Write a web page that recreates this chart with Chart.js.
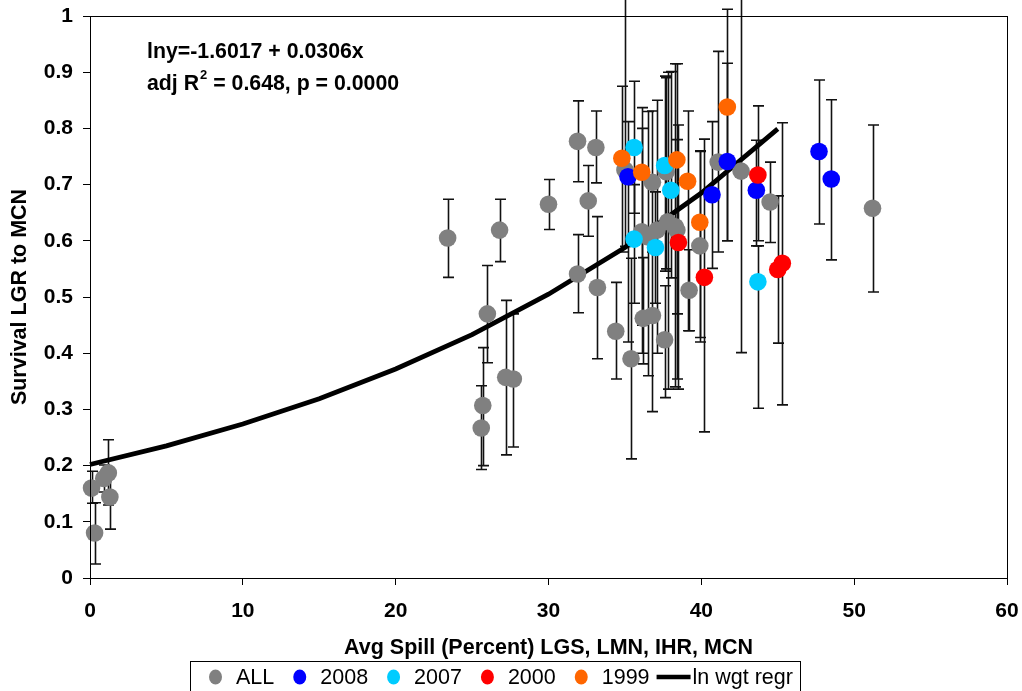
<!DOCTYPE html>
<html>
<head>
<meta charset="utf-8">
<script src="https://cdn.jsdelivr.net/npm/chart.js@4.4.1/dist/chart.umd.min.js"></script>
<style>
  html, body { margin: 0; padding: 0; background: #fff; }
  #wrap { width: 1022px; height: 691px; }
</style>
</head>
<body>
<div id="wrap"><canvas id="chart" width="1022" height="691"></canvas></div>
<script>
// ALL (gray)
const allX  = [0.1, 0.3, 0.9, 1.2, 1.3, 23.4, 25.6, 25.7, 26.0, 26.8, 27.2, 27.7, 30.0, 31.9, 31.9, 32.6, 33.1, 33.2, 34.4, 35.4, 35.0, 36.1, 36.2, 36.5, 36.8, 36.8, 37.1, 37.6, 37.7, 37.8, 38.3, 38.4, 39.2, 39.9, 41.1, 42.6, 44.5, 51.2];
const allY  = [0.160, 0.080, 0.177, 0.187, 0.144, 0.605, 0.267, 0.307, 0.470, 0.619, 0.357, 0.354, 0.665, 0.541, 0.777, 0.671, 0.766, 0.517, 0.439, 0.390, 0.726, 0.616, 0.462, 0.607, 0.467, 0.704, 0.619, 0.424, 0.723, 0.634, 0.625, 0.619, 0.512, 0.591, 0.740, 0.724, 0.669, 0.658];
const allLo = [0.133, 0.025, 0.153, 0.13, 0.087, 0.535, 0.193, 0.20, 0.383, 0.563, 0.219, 0.233, 0.62, 0.472, 0.705, 0.608, 0.703, 0.39, 0.354, 0.212, 0.59, 0.45, 0.381, 0.36, 0.296, 0.58, 0.40, 0.321, 0.55, 0.336, 0.34, 0.47, 0.44, 0.42, 0.58, 0.401, 0.597, 0.509];
const allHi = [0.19, 0.134, 0.201, 0.246, 0.19, 0.674, 0.342, 0.41, 0.556, 0.674, 0.494, 0.47, 0.709, 0.611, 0.849, 0.734, 0.831, 0.643, 0.526, 0.569, 1.1, 0.80, 0.57, 0.83, 0.62, 0.831, 0.85, 0.52, 0.89, 0.90, 0.915, 0.78, 0.584, 0.76, 0.937, 1.1, 0.74, 0.806];

// 2008 (blue)
const y2008X  = [35.2, 40.7, 41.7, 43.6, 47.7, 48.5];
const y2008Y  = [0.714, 0.682, 0.741, 0.690, 0.759, 0.710];
const y2008Lo = [0.42, 0.551, 0.60, 0.591, 0.63, 0.566];
const y2008Hi = [0.812, 0.812, 0.916, 0.779, 0.886, 0.851];

// 2007 (cyan)
const y2007X  = [35.6, 35.6, 37.0, 37.6, 38.0, 43.7];
const y2007Y  = [0.766, 0.603, 0.588, 0.734, 0.690, 0.527];
const y2007Lo = [0.649, 0.489, 0.489, 0.546, 0.534, 0.302];
const y2007Hi = [0.884, 0.70, 0.687, 0.893, 0.901, 0.591];

// 2000 (red)
const y2000X  = [38.5, 40.2, 43.7, 45.0, 45.3];
const y2000Y  = [0.597, 0.535, 0.717, 0.549, 0.560];
const y2000Lo = [0.336, 0.26, 0.60, 0.418, 0.308];
const y2000Hi = [0.806, 0.781, 0.84, 0.68, 0.81];

// 1999 (orange)
const y1999X  = [34.8, 36.1, 38.4, 39.1, 39.9, 41.7];
const y1999Y  = [0.747, 0.722, 0.744, 0.706, 0.633, 0.838];
const y1999Lo = [0.58, 0.40, 0.354, 0.44, 0.428, 0.60];
const y1999Hi = [0.875, 0.837, 0.915, 0.831, 0.759, 1.012];

// ln wgt regr line
const regX = [0, 5, 10, 15, 20, 25, 30, 35, 40, 45];
const regY = [0.202, 0.235, 0.274, 0.319, 0.372, 0.433, 0.505, 0.588, 0.685, 0.799];

const seriesLabels = ["ALL", "2008", "2007", "2000", "1999", "ln wgt regr"];
const seriesColors = ["#808080", "#0000ff", "#00ccff", "#ff0000", "#ff6600", "#000000"];

const annotLine1 = "lny=-1.6017 + 0.0306x";
const xTitle = "Avg Spill (Percent) LGS, LMN, IHR, MCN";
const yTitle = "Survival LGR to MCN";

const FONT = "'Liberation Sans', Arial, sans-serif";

function pts(xs, ys) {
    return xs.map((x, i) => ({ x: x, y: ys[i] }));
}

function scatterSet(i, xs, ys, lo, hi, order) {
    return {
        type: "scatter",
        label: seriesLabels[i],
        data: pts(xs, ys),
        errLo: lo,
        errHi: hi,
        backgroundColor: seriesColors[i],
        borderWidth: 0,
        pointRadius: 8.8,
        pointHoverRadius: 8.8,
        order: order
    };
}

// error bars, drawn under the points
const errorBars = {
    id: "errorBars",
    beforeDatasetsDraw(chart) {
        const ctx = chart.ctx;
        const xs = chart.scales.x, ys = chart.scales.y;
        ctx.save();
        ctx.beginPath();
        ctx.rect(0, 0, chart.width, chart.chartArea.bottom + 2);
        ctx.clip();
        ctx.strokeStyle = "#111";
        ctx.lineWidth = 1.6;
        chart.data.datasets.forEach(ds => {
            if (!ds.errLo) return;
            ds.data.forEach((p, i) => {
                const px = Math.round(xs.getPixelForValue(p.x)) + 0.5;
                const yl = ys.getPixelForValue(ds.errLo[i]);
                const yh = ys.getPixelForValue(ds.errHi[i]);
                ctx.beginPath();
                ctx.moveTo(px, yl);
                ctx.lineTo(px, yh);
                ctx.moveTo(px - 5.5, yl);
                ctx.lineTo(px + 5.5, yl);
                ctx.moveTo(px - 5.5, yh);
                ctx.lineTo(px + 5.5, yh);
                ctx.stroke();
            });
        });
        ctx.restore();
    }
};

// frame, titles, equation text, legend box
const decorations = {
    id: "decorations",
    afterDraw(chart) {
        const ctx = chart.ctx;
        const a = chart.chartArea;
        ctx.save();
        ctx.strokeStyle = "#000";
        ctx.lineWidth = 1;
        ctx.strokeRect(Math.round(a.left) + 0.5, Math.round(a.top) + 0.5, Math.round(a.right - a.left), Math.round(a.bottom - a.top));

        ctx.fillStyle = "#000";
        ctx.font = "bold 21.5px " + FONT;
        ctx.textAlign = "center";
        ctx.textBaseline = "middle";
        ctx.fillText(xTitle, (a.left + a.right) / 2, 648);
        ctx.save();
        ctx.translate(20, (a.top + a.bottom) / 2);
        ctx.rotate(-Math.PI / 2);
        ctx.fillText(yTitle, 0, 0);
        ctx.restore();

        // equation
        ctx.textAlign = "left";
        ctx.font = "bold 21.3px " + FONT;
        ctx.fillText(annotLine1, 147, 52);
        let x = 147;
        const parts = ["adj R", "2", " = 0.648, p = 0.0000"];
        ctx.fillText(parts[0], x, 84);
        x += ctx.measureText(parts[0]).width;
        ctx.font = "bold 13px " + FONT;
        ctx.fillText(parts[1], x + 1, 75);
        x += ctx.measureText(parts[1]).width + 1;
        ctx.font = "bold 21.3px " + FONT;
        ctx.fillText(parts[2], x, 84);

        // legend
        ctx.strokeRect(190.5, 661.5, 610, 40);
        ctx.font = "21.5px " + FONT;
        ctx.textBaseline = "middle";
        let lx = 209;
        const ly = 677;
        seriesLabels.forEach((lab, i) => {
            if (i < 5) {
                ctx.fillStyle = seriesColors[i];
                ctx.beginPath();
                ctx.ellipse(lx + 6.5, ly, 6.5, 7.5, 0, 0, Math.PI * 2);
                ctx.fill();
                lx += 27;
            } else {
                ctx.strokeStyle = "#000";
                ctx.lineWidth = 4.5;
                ctx.beginPath();
                ctx.moveTo(lx - 12, ly);
                ctx.lineTo(lx + 22, ly);
                ctx.stroke();
                lx += 24;
            }
            ctx.fillStyle = "#000";
            ctx.fillText(lab, lx, ly + 1);
            lx += ctx.measureText(lab).width + 19;
        });
        ctx.restore();
    }
};

const data = {
    datasets: [
        {
            type: "line",
            label: seriesLabels[5],
            data: pts(regX, regY),
            borderColor: "#000",
            borderWidth: 4.8,
            pointRadius: 0,
            fill: false,
            tension: 0,
            order: 10
        },
        scatterSet(0, allX, allY, allLo, allHi, 6),
        scatterSet(1, y2008X, y2008Y, y2008Lo, y2008Hi, 5),
        scatterSet(2, y2007X, y2007Y, y2007Lo, y2007Hi, 4),
        scatterSet(3, y2000X, y2000Y, y2000Lo, y2000Hi, 3),
        scatterSet(4, y1999X, y1999Y, y1999Lo, y1999Hi, 2)
    ]
};

new Chart(document.getElementById("chart"), {
    type: "scatter",
    data: data,
    options: {
        responsive: false,
        animation: false,
        clip: false,
        layout: { padding: { left: 0, top: 16, right: 15, bottom: 0 } },
        plugins: {
            legend: { display: false },
            tooltip: { enabled: false }
        },
        scales: {
            x: {
                type: "linear",
                min: 0,
                max: 60,
                afterFit: s => { s.height = 113; s.paddingLeft = 0; s.paddingRight = 0; },
                grid: { drawOnChartArea: false, drawTicks: true, tickLength: 7, color: "#000" },
                border: { display: true, color: "#000", width: 1 },
                ticks: {
                    stepSize: 10,
                    padding: 14,
                    color: "#000",
                    font: { family: FONT, size: 21, weight: "bold" }
                }
            },
            y: {
                type: "linear",
                min: 0,
                max: 1,
                afterFit: s => { s.width = 90; s.paddingTop = 0; s.paddingBottom = 0; },
                grid: { drawOnChartArea: false, drawTicks: true, tickLength: 7, color: "#000" },
                border: { display: true, color: "#000", width: 1 },
                ticks: {
                    stepSize: 0.1,
                    padding: 10,
                    color: "#000",
                    font: { family: FONT, size: 21, weight: "bold" },
                    callback: v => String(Number(v.toFixed(1)))
                }
            }
        }
    },
    plugins: [errorBars, decorations]
});
</script>
</body>
</html>
